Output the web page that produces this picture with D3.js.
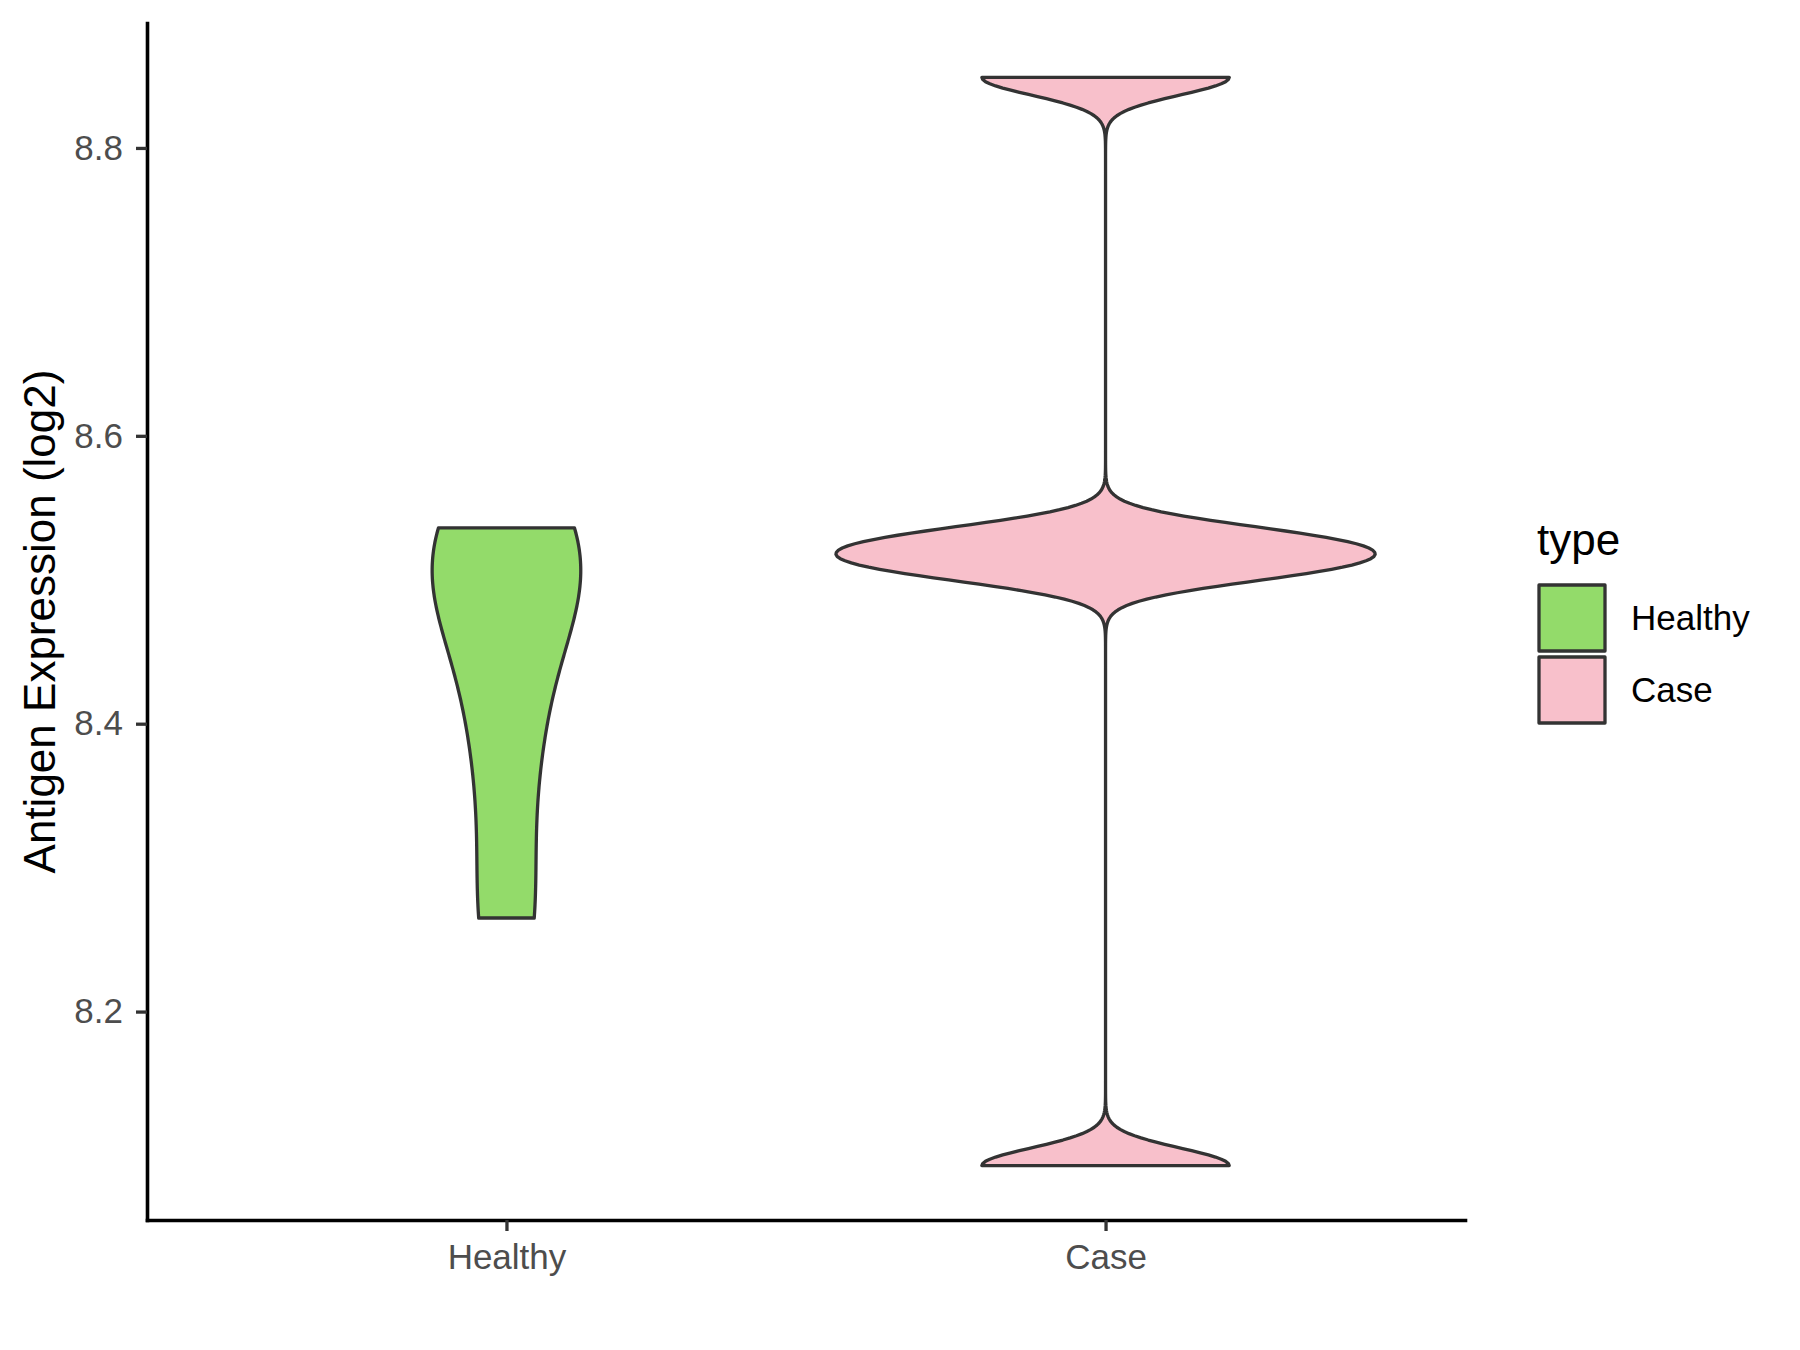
<!DOCTYPE html>
<html><head><meta charset="utf-8">
<script src="https://cdn.jsdelivr.net/npm/d3@7"></script>
<style>body{margin:0;background:#fff} text{font-family:"Liberation Sans",Arial,sans-serif}</style>
</head><body><svg id="chart" width="1800" height="1350"></svg>
<script>
// ---- data ----
const categories = ["Healthy", "Case"];
const healthyValues = [8.265, 8.39, 8.49, 8.515, 8.536];
const caseValues = [8.093, 8.5055, 8.518, 8.5305, 8.849];
const yTickValues = [8.2, 8.4, 8.6, 8.8];
const yTickLabels = ["8.2", "8.4", "8.6", "8.8"];
const fillColors = ["#93DB6A", "#F8C0CB"];
const yTitle = "Antigen Expression (log2)";
const legendTitle = "type";

const groups = [healthyValues, caseValues];

// ---- layout ----
const W = 1800, H = 1350;
const panel = {left: 147, right: 1465, top: 23, bottom: 1220};
const svg = d3.select("#chart");
svg.append("rect").attr("width", W).attr("height", H).attr("fill", "#fff");

// ---- KDE like ggplot (nrd0, gaussian, trim) ----
function nrd0(v) {
  const s = [...v].sort(d3.ascending);
  const sd = d3.deviation(s);
  const iqr = d3.quantileSorted(s, 0.75) - d3.quantileSorted(s, 0.25);
  let lo = Math.min(sd, iqr / 1.34);
  if (!(lo > 0)) lo = sd || 1;
  return 0.9 * lo * Math.pow(s.length, -0.2);
}
function kde(v, n = 512) {
  const bw = nrd0(v);
  const [a, b] = d3.extent(v);
  return d3.range(n).map(i => {
    const t = a + (b - a) * i / (n - 1);
    const d = d3.sum(v, x => Math.exp(-0.5 * ((t - x) / bw) ** 2)) / (v.length * bw * Math.sqrt(2 * Math.PI));
    return {value: t, density: d};
  });
}
const dens = groups.map(g => kde(g));
const maxD = d3.max(dens, d => d3.max(d, e => e.density));

// ---- scales ----
const allVals = groups.flat();
const [vmin, vmax] = d3.extent(allVals);
const pad = (vmax - vmin) * 0.05;
const y = d3.scaleLinear().domain([vmin - pad, vmax + pad]).range([panel.bottom, panel.top]);
const x = d3.scalePoint().domain(categories).range([panel.left, panel.right]).padding(0.6);
const w = d3.scaleLinear().domain([0, maxD]).range([0, 0.45 * x.step()]);

// ---- violins ----
categories.forEach((cat, i) => {
  const area = d3.area()
    .y(d => y(d.value))
    .x0(d => x(cat) - w(d.density))
    .x1(d => x(cat) + w(d.density));
  svg.append("path")
    .attr("d", area(dens[i]))
    .attr("fill", fillColors[i])
    .attr("stroke", "#333333")
    .attr("stroke-width", 3.3)
    .attr("stroke-linejoin", "round");
});

// ---- axes ----
const yAxis = d3.axisLeft(y).tickValues(yTickValues).tickFormat((d, i) => yTickLabels[i])
  .tickSize(11).tickSizeOuter(0).tickPadding(13);
const gy = svg.append("g").attr("transform", `translate(${panel.left},0)`).call(yAxis);
const xAxis = d3.axisBottom(x).tickSize(11).tickSizeOuter(0).tickPadding(13);
const gx = svg.append("g").attr("transform", `translate(0,${panel.bottom})`).call(xAxis);
[gx, gy].forEach(g => {
  g.select(".domain").attr("stroke", "#000").attr("stroke-width", 3.6).attr("stroke-linecap", "square");
  g.selectAll(".tick line").attr("stroke", "#333333").attr("stroke-width", 3.3);
  g.selectAll(".tick text").attr("fill", "#4D4D4D").attr("font-size", 35)
    .attr("font-family", '"Liberation Sans",Arial,sans-serif');
});

// axis title
svg.append("text")
  .attr("transform", `translate(55,${(panel.top + panel.bottom) / 2}) rotate(-90)`)
  .attr("text-anchor", "middle").attr("font-size", 44).attr("fill", "#000")
  .text(yTitle);

// ---- legend ----
const lg = svg.append("g");
lg.append("text").attr("x", 1537).attr("y", 555).attr("font-size", 44).attr("fill", "#000").text(legendTitle);
const keyTop = 585, keyStep = 72, keySize = 66;
categories.forEach((cat, i) => {
  lg.append("rect")
    .attr("x", 1539).attr("y", keyTop + i * keyStep)
    .attr("width", keySize).attr("height", keySize)
    .attr("fill", fillColors[i]).attr("stroke", "#333333").attr("stroke-width", 3.3)
    .attr("stroke-linejoin", "round");
  lg.append("text")
    .attr("x", 1631).attr("y", keyTop + i * keyStep + keySize / 2)
    .attr("dy", "0.35em").attr("font-size", 35).attr("fill", "#000").text(cat);
});
</script>
</body></html>
